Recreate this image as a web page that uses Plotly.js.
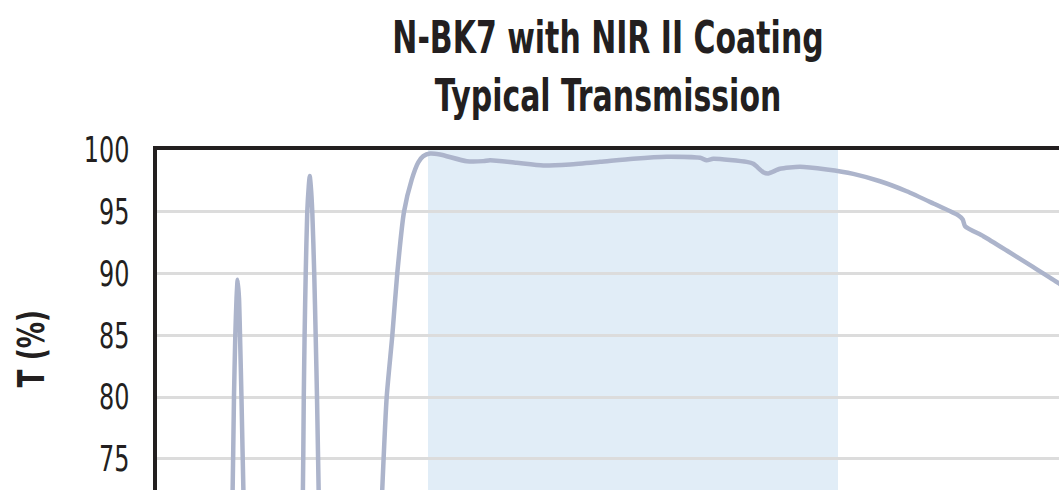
<!DOCTYPE html>
<html>
<head>
<meta charset="utf-8">
<script src="https://cdn.plot.ly/plotly-3.0.1.min.js"></script>
<style>
  html, body { margin: 0; padding: 0; overflow: hidden; background: #fff; }
  #chart { width: 1300px; height: 700px; }
</style>
</head>
<body>
<div id="chart"></div>
<script>
// Wavelength (nm) and transmission (%)
const wavelength = [
  1000, 1009.3, 1010.7, 1012.0, 1013.2, 1014.3, 1015.6, 1016.6, 1018.0, 1020.0, 1030,
  1070, 1077.9, 1078.8, 1079.6, 1080.7, 1082.2, 1083.6, 1084.6, 1085.7, 1087.1, 1089.0, 1090.4, 1091.7, 1093.4, 1100,
  1145, 1155.1, 1159.7, 1165.2, 1170.0, 1176.6, 1184.1, 1190.5, 1195.4, 1202.0,
  1211.7, 1237.8, 1254.0, 1260.5, 1286.5, 1312.5, 1338.5, 1367.8,
  1400.3, 1432.9, 1465.4, 1471.9, 1478.3, 1510.9, 1517.4, 1527.1, 1532.0, 1543.4,
  1562.9, 1589.0, 1614.9, 1641.0, 1667.0, 1693.0, 1717.4, 1721.7, 1724.0, 1741.8,
  1764.6, 1790.6, 1815.7, 1850, 1900
];
const transmission = [
  40, 72, 80, 85, 88, 89.5, 88, 85, 80, 72, 40,
  40, 72, 80, 85, 90, 95, 97, 97.9, 97, 95, 90, 85, 80, 72, 40,
  50, 72, 80, 85, 90, 95, 97.6, 99.0, 99.5, 99.72,
  99.64, 99.09, 99.1, 99.18, 98.96, 98.74, 98.83, 99.04,
  99.29, 99.45, 99.37, 99.17, 99.29, 99.04, 98.88, 98.2, 98.1, 98.48,
  98.64, 98.42, 98.07, 97.47, 96.66, 95.67, 94.7, 94.37, 93.83, 93.02,
  91.86, 90.51, 89.19, 87.2, 84.0
];
// Coating design band (nm)
const bandStart = 1200;
const bandEnd = 1600;

// Y tick values shown
const yTickVals = [75, 80, 85, 90, 95, 100];
const yTickText = ['75', '80', '85', '90', '95', '100'];

const titleLines = ['N-BK7 with NIR II Coating', 'Typical Transmission'];
const yTitle = 'T (%)';

const narrow = '"Liberation Sans Narrow", "DejaVu Sans Condensed", sans-serif';

const trace = {
  x: wavelength,
  y: transmission,
  type: 'scatter',
  mode: 'lines',
  line: { color: '#acb4cb', width: 4.5, shape: 'spline', smoothing: 0.6 },
  hoverinfo: 'skip'
};

const layout = {
  width: 1300,
  height: 700,
  margin: { l: 157, r: 43, t: 150, b: 56 },
  paper_bgcolor: '#ffffff',
  plot_bgcolor: '#ffffff',
  showlegend: false,
  title: {
    text: titleLines.join('<br>'),
    font: { family: narrow, size: 45, color: '#231f20', weight: 'bold' },
    xref: 'container', x: 608 / 1300, xanchor: 'center',
    yref: 'container', y: 1 - 53 / 700, yanchor: 'top'
  },
  xaxis: {
    range: [935.6, 2008.8],
    showgrid: false,
    zeroline: false,
    showline: true,
    mirror: true,
    linecolor: '#231f20',
    linewidth: 4.5,
    showticklabels: false,
    ticks: ''
  },
  yaxis: {
    range: [60, 100],
    tickmode: 'array',
    tickvals: yTickVals,
    ticktext: yTickText,
    showgrid: true,
    gridcolor: '#dcdcdc',
    gridwidth: 3,
    zeroline: false,
    showline: true,
    mirror: true,
    linecolor: '#231f20',
    linewidth: 4.5,
    ticks: '',
    ticklabelstandoff: 16,
    tickfont: { family: narrow, size: 35, color: '#231f20' }
  },
  annotations: [{
    text: yTitle,
    xref: 'paper', yref: 'paper',
    x: (31 - 157) / 1100, xanchor: 'center',
    y: (644 - 349) / 494, yanchor: 'middle',
    textangle: -90,
    showarrow: false,
    font: { family: narrow, size: 38, color: '#231f20', weight: 'bold' }
  }],
  shapes: [{
    type: 'rect', xref: 'x', yref: 'paper',
    x0: bandStart, x1: bandEnd, y0: 0, y1: 1,
    fillcolor: 'rgba(126,178,222,0.23)',
    line: { width: 0 },
    layer: 'between'
  }]
};

// Horizontally condense text (the reference uses a condensed typeface)
function condense(el, sx, anchor) {
  const bb = el.getBBox();
  let ax = bb.x + bb.width / 2;
  if (anchor === 'end') ax = bb.x + bb.width;
  if (anchor === 'start') ax = bb.x;
  const prev = el.getAttribute('transform') || '';
  el.setAttribute('transform', prev + ' translate(' + ax + ',0) scale(' + sx + ',1) translate(' + (-ax) + ',0)');
}

Plotly.newPlot('chart', [trace], layout, { displayModeBar: false, staticPlot: true }).then(function (gd) {
  gd.querySelectorAll('.ytick text').forEach(function (t) { condense(t, 0.76, 'end'); });
  gd.querySelectorAll('.gtitle').forEach(function (t) { condense(t, 0.74, 'middle'); });
  gd.querySelectorAll('.annotation-text').forEach(function (t) { condense(t, 0.77, 'middle'); });
});
</script>
</body>
</html>
